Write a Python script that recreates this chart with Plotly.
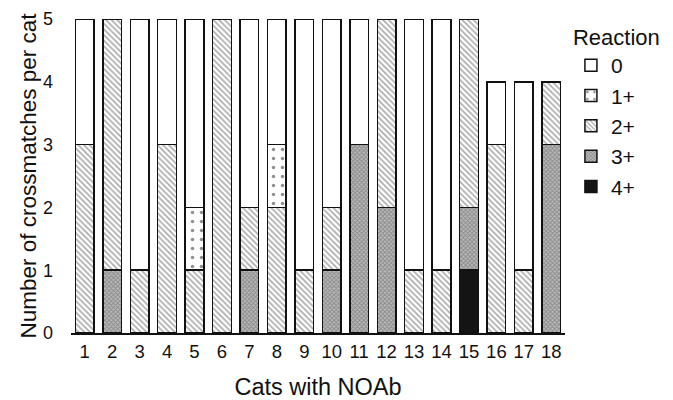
import plotly.graph_objects as go

cats = [str(i) for i in range(1, 19)]
r4 = [0, 0, 0, 0, 0, 0, 0, 0, 0, 0, 0, 0, 0, 0, 1, 0, 0, 0]
r3 = [0, 1, 0, 0, 0, 0, 1, 0, 0, 1, 3, 2, 0, 0, 1, 0, 0, 3]
r2 = [3, 4, 1, 3, 1, 5, 1, 2, 1, 1, 0, 3, 1, 1, 3, 3, 1, 1]
r1 = [0, 0, 0, 0, 1, 0, 0, 1, 0, 0, 0, 0, 0, 0, 0, 0, 0, 0]
r0 = [2, 0, 4, 2, 3, 0, 3, 2, 4, 3, 2, 0, 4, 4, 0, 1, 3, 0]

FONT = "Arial, Liberation Sans, sans-serif"
line = dict(color="#111", width=1.5)

fig = go.Figure()
fig.add_bar(x=cats, y=r4, name="4+", marker=dict(color="#141414", line=line))
fig.add_bar(x=cats, y=r3, name="3+", marker=dict(color="#fff", line=line,
            pattern=dict(shape="x", size=3, solidity=0.5, fgcolor="#555", bgcolor="#bbb")))
fig.add_bar(x=cats, y=r2, name="2+", marker=dict(color="#fff", line=line,
            pattern=dict(shape="\\", size=4, solidity=0.4, fgcolor="#555", bgcolor="#fff")))
fig.add_bar(x=cats, y=r1, name="1+", marker=dict(color="#fff", line=line,
            pattern=dict(shape=".", size=9, solidity=0.12, fgcolor="#222", bgcolor="#fff")))
fig.add_bar(x=cats, y=r0, name="0", marker=dict(color="#fff", line=line))

# the page body adds an 8px offset, so the figure is drawn 8px smaller
fig.update_layout(
    width=665, height=392,
    barmode="stack", bargap=0.32,
    plot_bgcolor="white", paper_bgcolor="white",
    font=dict(family=FONT, size=18, color="#111"),
    margin=dict(l=63, r=108, t=11, b=67, autoexpand=False),
    legend=dict(title=dict(text="Reaction", font=dict(size=22)),
                x=1.012, xanchor="left", y=1.008, yanchor="top",
                font=dict(size=21), traceorder="reversed",
                itemwidth=30, tracegroupgap=0),
    xaxis=dict(title=dict(text="Cats with NOAb", font=dict(size=23.5), standoff=41),
               showline=True, linecolor="#111", linewidth=1.5, ticks="",
               showgrid=False, tickfont=dict(size=18.5), ticklabelstandoff=1),
    yaxis=dict(title=dict(text="Number of crossmatches per cat", font=dict(size=22.5), standoff=0),
               range=[0, 5], dtick=1, showgrid=False, zeroline=False, showline=False,
               ticks="", ticklabelstandoff=17, tickfont=dict(size=18)),
)

fig.write_html("out.html")
